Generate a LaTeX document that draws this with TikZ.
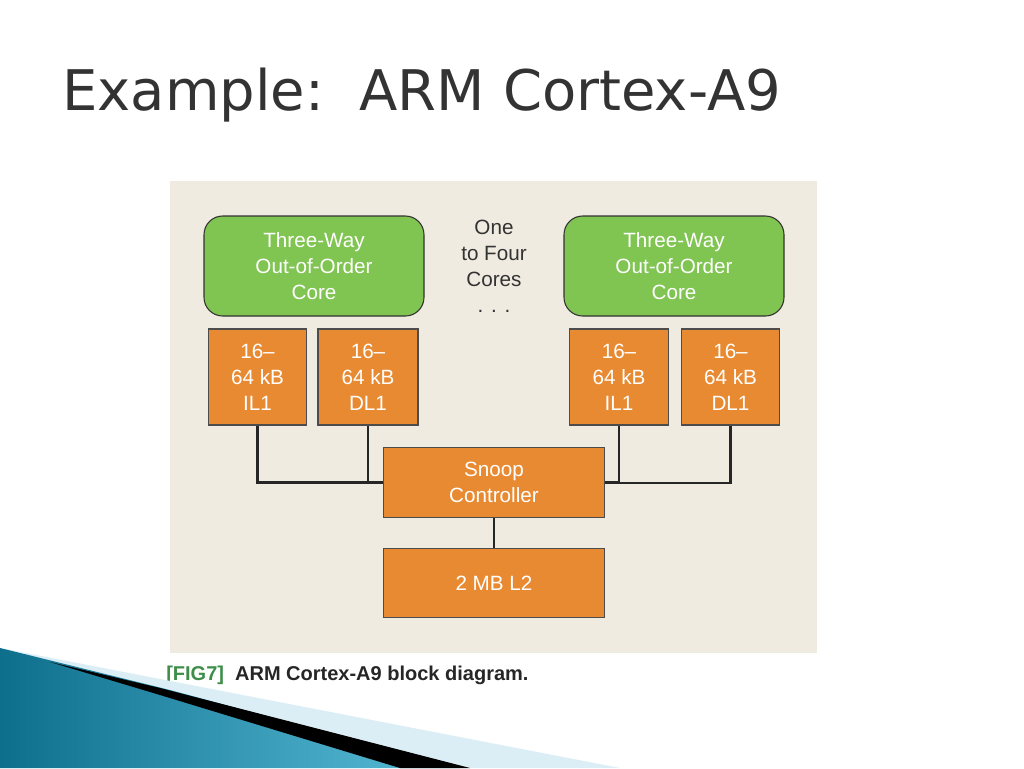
\documentclass[tikz,border=0pt]{standalone}
\usepackage{fontspec}
\setmainfont{Liberation Sans}
\newfontfamily\titlefont{DejaVu Sans}
\begin{document}
\begin{tikzpicture}[x=0.75pt,y=-0.75pt,
  box/.style={draw=black!70,fill=orgc,text=white,font=\fontsize{15.5}{19.5}\selectfont,align=center,inner sep=0pt,line width=0.8pt},
  core/.style={draw=black!80,fill=grnc,rounded corners=14pt,text=white,font=\fontsize{15.5}{19.5}\selectfont,align=center,inner sep=0pt,line width=0.8pt},
  wire/.style={line width=2.2pt,black!85}]
\definecolor{orgc}{HTML}{E88A32}
\definecolor{grnc}{HTML}{80C451}
\definecolor{beige}{HTML}{F0EBE0}
\definecolor{tealdark}{HTML}{0E6F8C}
\definecolor{teallight}{HTML}{5BBFDA}
\definecolor{palebl}{HTML}{DCEEF5}
\useasboundingbox (0,0) rectangle (1024,768);
\fill[white] (0,0) rectangle (1024,768);
\node[anchor=west,font=\titlefont\fontsize{42}{48}\selectfont,text=black!80,inner sep=0pt] (title) at (62,95) {Example:\ \ ARM Cortex-A9};
\fill[beige] (170,181) rectangle (817,653);
\node[core,minimum width=165pt,minimum height=75pt] (c1) at (314,266) {Three-Way\\Out-of-Order\\Core};
\node[core,minimum width=165pt,minimum height=75pt] (c2) at (674,266) {Three-Way\\Out-of-Order\\Core};
\node[font=\fontsize{15.5}{19.5}\selectfont,align=center,text=black!80] (one) at (494,266) {One\\to Four\\Cores\\. . .};
\node[box,minimum width=74pt,minimum height=72pt] (i1) at (257.5,377) {16--\\64 kB\\IL1};
\node[box,minimum width=75pt,minimum height=72pt] (d1) at (368,377) {16--\\64 kB\\DL1};
\node[box,minimum width=74pt,minimum height=72pt] (i2) at (619,377) {16--\\64 kB\\IL1};
\node[box,minimum width=74pt,minimum height=72pt] (d2) at (730.5,377) {16--\\64 kB\\DL1};
\node[box,minimum width=166pt,minimum height=53pt] (sn) at (494,482.5) {Snoop\\Controller};
\node[box,minimum width=166pt,minimum height=52pt] (l2) at (494,583) {2 MB L2};
\coordinate (j1) at (368,483);
\coordinate (j2) at (619,483);
\draw[wire] (i1.south) |- (sn.west);
\draw[wire] (d1.south) -- (j1);
\draw[wire] (i2.south) |- (sn.east);
\draw[wire] (d2.south) |- (j2);
\draw[wire] (sn.south) -- (l2.north);
\node[anchor=west,font=\bfseries\fontsize{15}{18}\selectfont,inner sep=0pt] (cap) at (166,675) {\textcolor[HTML]{3E8E4A}{[FIG7]}\ \ \textcolor{black!85}{ARM Cortex-A9 block diagram.}};
% decoration
\fill[palebl] (0,648) -- (620,768) -- (0,768) -- cycle;
\shade[left color=tealdark, right color=teallight] (0,648) -- (170,690) -- (460,768) -- (0,768) -- cycle;
\fill[black] (50,662) -- (160,688) -- (470,768) -- (400,768) -- (160,695) -- cycle;
\end{tikzpicture}
\end{document}
